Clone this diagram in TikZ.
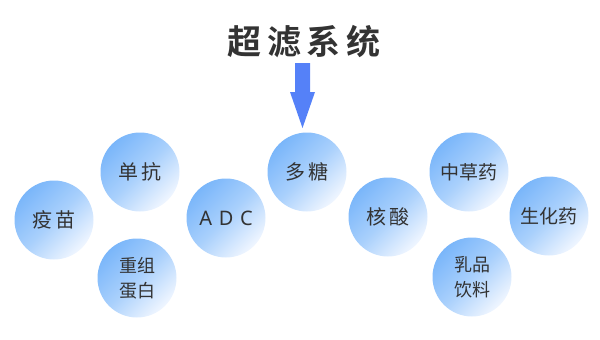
\documentclass[tikz,border=0pt]{standalone}
\usepackage{fontspec}
\newfontfamily\cjk{Noto Sans CJK SC}
\newfontfamily\cjkb{Noto Sans CJK SC Bold}
\usetikzlibrary{shapes.geometric}
\definecolor{ballA}{HTML}{7AB6FA}
\definecolor{ballM}{HTML}{A9D0FC}
\definecolor{ballB}{HTML}{F0F6FF}
\definecolor{txt}{HTML}{333333}
\definecolor{arr}{HTML}{5581F8}
\tikzset{
  ball/.style={circle, minimum size=79pt, inner sep=0pt, shading=axis,
    top color=ballA, bottom color=ballB, middle color=ballM, shading angle=45,
    text=txt, font=\cjk\fontsize{20}{24}\selectfont, align=center},
  smallball/.style={ball, font=\cjk\fontsize{18}{25}\selectfont},
}
\begin{document}
\begin{tikzpicture}[x=1pt,y=-1pt]
\useasboundingbox (0,0) rectangle (600,340);
\node[font=\cjkb\fontsize{34}{38}\selectfont, text=txt] (title) at (304,42) {超\,滤\,系\,统};
\fill[arr] (295,63) -- (310,63) -- (310,92) -- (315,92) -- (302.5,128) -- (290,92) -- (295,92) -- cycle;
\coordinate (tip) at (302.5,128);
\node[ball] (yimiao) at (54,220) {疫\,苗};
\node[ball] (dankang) at (140,172) {单\,抗};
\node[smallball] (chongzu) at (137,278) {重组\\蛋白};
\node[ball, font=\fontspec{Noto Sans}\fontsize{20}{24}\selectfont] (adc) at (226,218) {A\,\,D\,\,C};
\node[ball] (duotang) at (307,172) {多\,糖};
\node[ball] (hesuan) at (388,217) {核\,酸};
\node[ball, font=\cjk\fontsize{19}{24}\selectfont] (zhongcao) at (469,172) {中草药};
\node[ball, font=\cjk\fontsize{19}{24}\selectfont] (shenghua) at (549,216) {生化药};
\node[smallball] (rupin) at (472,277) {乳品\\饮料};
\end{tikzpicture}
\end{document}
